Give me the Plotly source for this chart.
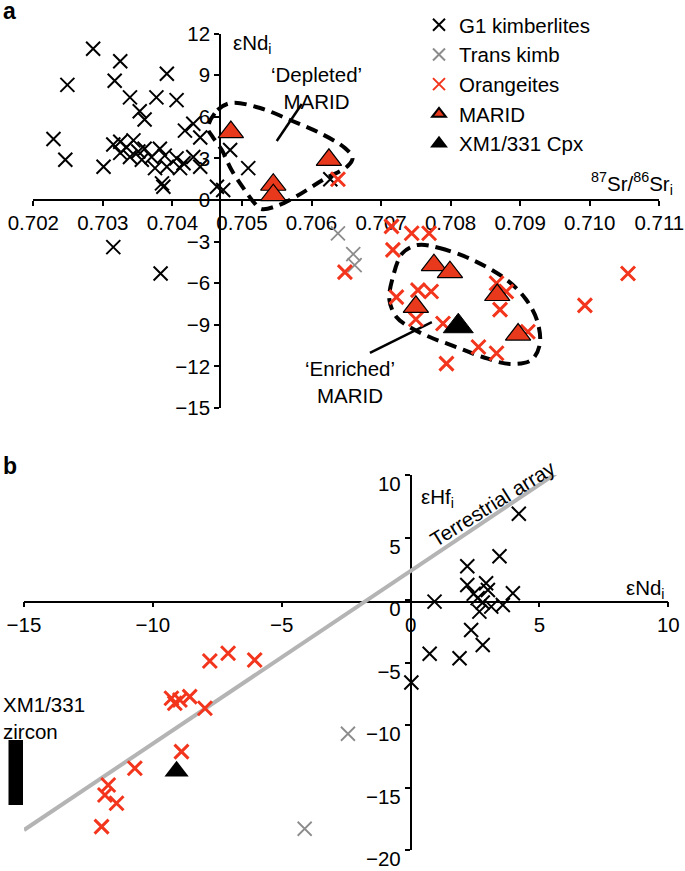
import plotly.graph_objects as go

W, H = 685, 871
FONT = "Liberation Sans, Arial, sans-serif"
FS = 20.5
RED = "#f2351c"
TRI_RED = "#e8391d"
GREY = "#8c8c8c"

# ---------------- Panel a : 87Sr/86Sr_i vs eNd_i ----------------
g1_sr = [0.70286, 0.70249, 0.70325, 0.70317, 0.70392, 0.70339, 0.70377, 0.70406, 0.70353, 0.70360,
         0.70229, 0.70246, 0.70301, 0.70418, 0.70430, 0.70315, 0.70325, 0.70334, 0.70344, 0.70325,
         0.70339, 0.70351, 0.70360, 0.70356, 0.70370, 0.70382, 0.70389, 0.70375, 0.70392, 0.70406,
         0.70416, 0.70411, 0.70385, 0.70387, 0.70430, 0.70440, 0.70440, 0.70464, 0.70473, 0.70483,
         0.70509, 0.70627, 0.70315, 0.70383]
g1_nd = [10.9, 8.3, 10.0, 8.6, 9.1, 7.4, 7.4, 7.2, 6.4, 5.8,
         4.4, 2.9, 2.4, 5.0, 5.5, 4.0, 4.2, 3.8, 4.3, 3.4,
         3.1, 3.5, 3.7, 2.9, 3.1, 3.7, 3.2, 2.3, 2.4, 3.0,
         2.65, 2.3, 1.2, 0.96, 3.1, 2.4, 4.5, 0.96, 0.72, 3.6,
         2.3, 1.5, -3.4, -5.3]

trans_sr = [0.70638, 0.70660, 0.70662]
trans_nd = [-2.4, -3.9, -4.7]

orng_sr = [0.70638, 0.70648, 0.70715, 0.70744, 0.70769, 0.70717, 0.70722, 0.70753, 0.70772, 0.70750,
           0.70789, 0.70794, 0.70840, 0.70866, 0.70866, 0.70880, 0.70871, 0.70911, 0.70993, 0.71055]
orng_nd = [1.5, -5.2, -1.9, -2.4, -2.4, -3.6, -7.0, -6.5, -6.6, -8.6,
           -8.9, -11.8, -10.6, -11.05, -6.0, -6.6, -7.9, -9.5, -7.6, -5.3]

marid_sr = [0.70484, 0.70545, 0.70545, 0.70625, 0.70776, 0.70799, 0.70750, 0.70867, 0.70897]
marid_nd = [4.9, 1.1, 0.35, 2.9, -4.7, -5.2, -7.7, -6.85, -9.7]

cpx_sr = [0.70811]
cpx_nd = [-9.1]

# envelopes (outline vertices)
dep_sr = [0.70451, 0.70465, 0.70485, 0.70526, 0.70569, 0.70612, 0.70648, 0.70659, 0.70652, 0.70616,
          0.70579, 0.70550, 0.70528, 0.70518, 0.70504, 0.70485, 0.70471, 0.70457, 0.70451]
dep_nd = [5.19, 6.49, 7.0, 6.63, 5.77, 4.83, 3.75, 3.03, 2.45, 1.44,
          0.29, -0.43, -0.65, -0.22, 0.72, 2.16, 3.6, 4.61, 5.19]
enr_sr = [0.70753, 0.70784, 0.70832, 0.70881, 0.70909, 0.70925, 0.70928, 0.70916, 0.70885, 0.70846,
          0.70808, 0.70770, 0.70741, 0.70722, 0.70712, 0.70717, 0.70731, 0.70753]
enr_nd = [-3.24, -3.46, -4.33, -5.77, -7.21, -8.80, -10.45, -11.54, -11.82, -11.32,
          -10.6, -9.88, -9.16, -8.44, -7.21, -5.55, -3.82, -3.24]
dep_lead_sr = [0.70586, 0.70550]
dep_lead_nd = [6.92, 4.25]
enr_lead_sr = [0.70684, 0.70773]
enr_lead_nd = [-11.03, -8.80]

sr_ticks = [0.702, 0.703, 0.704, 0.705, 0.706, 0.707, 0.708, 0.709, 0.710, 0.711]
nda_ticks = [-15, -12, -9, -6, -3, 0, 3, 6, 9, 12]

# ---------------- Panel b : eNd_i vs eHf_i ----------------
g1b_nd = [4.2, 3.45, 2.2, 2.2, 2.93, 3.0, 2.45, 2.6, 3.97, 0.93,
          2.8, 3.13, 3.58, 2.67, 2.35, 2.8, 0.74, 1.9, 0.03]
g1b_hf = [6.9, 3.5, 2.7, 1.2, 1.34, 0.8, 0.5, 0.15, 0.54, -0.13,
          -0.2, -0.53, -0.4, -0.93, -2.4, -3.6, -4.3, -4.66, -6.6]
transb_nd = [-2.43, -4.11]
transb_hf = [-10.7, -18.3]
orngb_nd = [-7.08, -7.79, -6.05, -9.28, -8.95, -8.57, -9.15, -7.98, -8.89, -10.7,
            -11.73, -11.86, -11.41, -11.99]
orngb_hf = [-4.26, -4.88, -4.8, -7.86, -8.0, -7.73, -8.26, -8.66, -12.13, -13.46,
            -14.8, -15.6, -16.26, -18.13]
cpxb_nd = [-9.08]
cpxb_hf = [-13.7]
zircon_hf = [-11.2, -16.4]
terr_nd = [-15.0, 5.7]
terr_hf = [-18.4, 10.2]

ndb_ticks = [-15, -10, -5, 0, 5, 10]
hf_ticks = [-20, -15, -10, -5, 0, 5, 10]


def px(x):
    return x / W


def py(y):
    return 1 - y / H


fig = go.Figure()

xa, ya = dict(xaxis="x", yaxis="y"), dict(xaxis="x2", yaxis="y2")
cross = lambda c, w: dict(symbol="x-thin", size=14, color=c, line=dict(color=c, width=w))

# panel a traces
fig.add_trace(go.Scatter(x=g1_sr, y=g1_nd, mode="markers", name="G1 kimberlites",
                         marker=cross("black", 2), legendrank=1, legendgroup="g1", **xa))
fig.add_trace(go.Scatter(x=trans_sr, y=trans_nd, mode="markers", name="Trans kimb",
                         marker=cross(GREY, 1.8), legendrank=2, legendgroup="tr", **xa))
for sx, sy in [(dep_sr, dep_nd), (enr_sr, enr_nd)]:
    fig.add_trace(go.Scatter(x=sx, y=sy, mode="lines", showlegend=False, hoverinfo="skip",
                             line=dict(color="black", width=4, dash="12px,7px", shape="spline", smoothing=1.0), **xa))
for sx, sy in [(dep_lead_sr, dep_lead_nd), (enr_lead_sr, enr_lead_nd)]:
    fig.add_trace(go.Scatter(x=sx, y=sy, mode="lines", showlegend=False, hoverinfo="skip",
                             line=dict(color="black", width=2.5), **xa))
fig.add_trace(go.Scatter(x=orng_sr, y=orng_nd, mode="markers", name="Orangeites",
                         marker=cross(RED, 3), legendrank=3, legendgroup="or", **xa))
fig.add_trace(go.Scatter(x=marid_sr, y=marid_nd, mode="markers", name="MARID",
                         marker=dict(symbol="triangle-up", size=22, color=TRI_RED,
                                     line=dict(color="black", width=1.2)),
                         legendrank=4, legendgroup="ma", **xa))
fig.add_trace(go.Scatter(x=cpx_sr, y=cpx_nd, mode="markers", name="XM1/331 Cpx",
                         marker=dict(symbol="triangle-up", size=26, color="black",
                                     line=dict(color="black", width=1)),
                         legendrank=5, legendgroup="cp", **xa))

# panel b traces
fig.add_trace(go.Scatter(x=terr_nd, y=terr_hf, mode="lines", showlegend=False, hoverinfo="skip",
                         line=dict(color="#b4b4b4", width=4), **ya))
fig.add_trace(go.Scatter(x=g1b_nd, y=g1b_hf, mode="markers", showlegend=False,
                         marker=cross("black", 2), **ya))
fig.add_trace(go.Scatter(x=transb_nd, y=transb_hf, mode="markers", showlegend=False,
                         marker=cross(GREY, 1.8), **ya))
fig.add_trace(go.Scatter(x=orngb_nd, y=orngb_hf, mode="markers", showlegend=False,
                         marker=cross(RED, 3), **ya))
fig.add_trace(go.Scatter(x=cpxb_nd, y=cpxb_hf, mode="markers", showlegend=False,
                         marker=dict(symbol="triangle-up", size=21, color="black"), **ya))

# zircon range bar (outside the x range, left of the axis)
fig.add_shape(type="rect", xref="paper", yref="y2", x0=px(8.5), x1=px(23), y0=zircon_hf[1], y1=zircon_hf[0],
              fillcolor="black", line=dict(width=0), layer="above")

axcommon = dict(showgrid=False, zeroline=False, showline=True, linecolor="black", linewidth=1.5,
                ticks="outside", ticklen=5, tickwidth=1.5, tickcolor="black", layer="below traces",
                tickfont=dict(size=FS, color="black", family=FONT), anchor="free")

fig.update_layout(
    width=W, height=H,
    margin=dict(l=0, r=0, t=0, b=0, autoexpand=False),
    paper_bgcolor="white", plot_bgcolor="rgba(0,0,0,0)",
    font=dict(family=FONT, size=FS, color="black"),
    showlegend=True,
    legend=dict(x=px(419), y=py(5), xanchor="left", yanchor="top", bgcolor="rgba(0,0,0,0)",
                font=dict(size=FS, family=FONT), itemsizing="constant", tracegroupgap=6,
                traceorder="normal"),
    xaxis=dict(domain=[px(33.3), px(659.3)], range=[0.702, 0.711], position=py(200),
               tickvals=sr_ticks, tickformat=".3f", **axcommon),
    yaxis=dict(domain=[py(408.05), py(33.56)], range=[-15, 12], position=px(220),
               tickvals=nda_ticks, **axcommon),
    xaxis2=dict(domain=[px(24), px(668.3)], range=[-15, 10], position=py(601.7),
                tickvals=ndb_ticks, **axcommon),
    yaxis2=dict(domain=[py(850), py(475)], range=[-20, 10], position=px(410.6),
                tickvals=hf_ticks, ticklabelshift=9, **axcommon),
)

ann = [
    dict(text="<b>a</b>", x=px(1), y=py(11), xanchor="left", yanchor="middle", font=dict(size=23)),
    dict(text="<b>b</b>", x=px(1), y=py(466), xanchor="left", yanchor="middle", font=dict(size=23)),
    dict(text="εNd<sub>i</sub>", x=px(231), y=py(44), xanchor="left", yanchor="middle"),
    dict(text="<sup>87</sup>Sr/<sup>86</sup>Sr<sub>i</sub>", x=px(675), y=py(183), xanchor="right", yanchor="middle"),
    dict(text="‘Depleted’<br>MARID", x=px(316), y=py(88), xanchor="center", yanchor="middle"),
    dict(text="‘Enriched’<br>MARID", x=px(350), y=py(382), xanchor="center", yanchor="middle"),
    dict(text="εHf<sub>i</sub>", x=px(419), y=py(498), xanchor="left", yanchor="middle"),
    dict(text="εNd<sub>i</sub>", x=px(667), y=py(589), xanchor="right", yanchor="middle"),
    dict(text="Terrestrial array", x=px(492), y=py(503), xanchor="center", yanchor="middle", textangle=-32),
    dict(text="XM1/331<br>zircon", x=px(1), y=py(718), xanchor="left", yanchor="middle", align="left"),
]
for a in ann:
    a.update(xref="paper", yref="paper", showarrow=False)
    a["font"] = dict(family=FONT, color="black", size=a.get("font", {}).get("size", FS))
fig.update_layout(annotations=ann)

fig.write_html("out.html", config={"displayModeBar": False},
               post_script="document.body.style.margin='0px';document.body.style.padding='0px';"
                           "document.body.style.overflow='hidden';")
